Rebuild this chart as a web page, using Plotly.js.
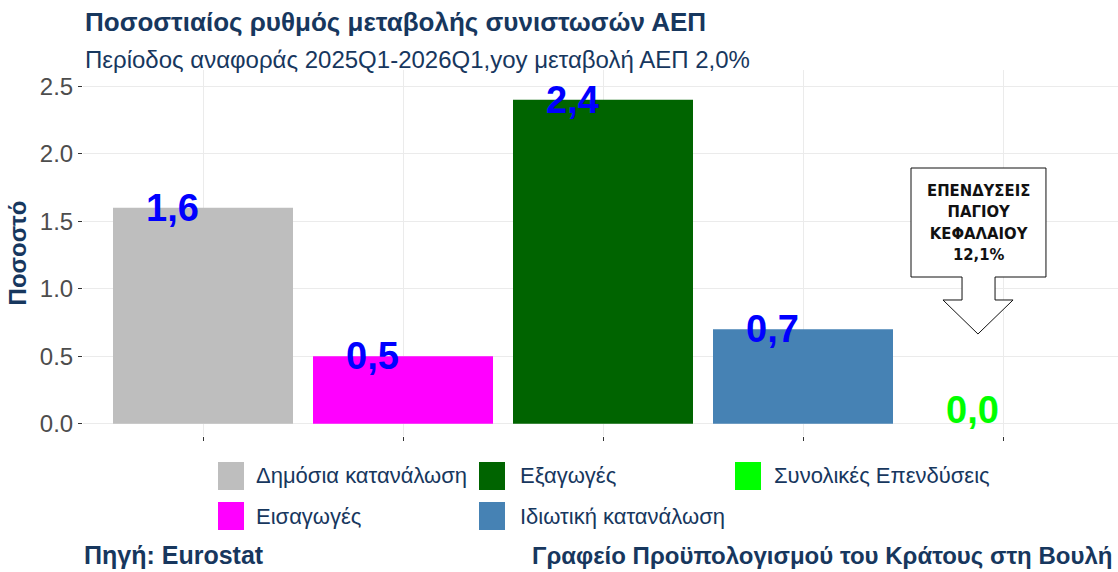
<!DOCTYPE html>
<html>
<head>
<meta charset="utf-8">
<script src="https://cdn.plot.ly/plotly-3.0.1.min.js"></script>
<style>
  html, body { margin: 0; padding: 0; background: #ffffff; }
  #chart { width: 1118px; height: 572px; }
</style>
</head>
<body>
<div id="chart"></div>
<script>
// data
const categories = ['Δημόσια κατανάλωση', 'Εισαγωγές', 'Εξαγωγές', 'Ιδιωτική κατανάλωση', 'Συνολικές Επενδύσεις'];
const values = [1.6, 0.5, 2.4, 0.7, 0.0];
const valueLabels = ['1,6', '0,5', '2,4', '0,7', '0,0'];
const barColors = ['#bebebe', '#ff00ff', '#006400', '#4682b4', '#00ff00'];
const labelColors = ['#0000ff', '#0000ff', '#0000ff', '#0000ff', '#00ff00'];
const yTicks = [0, 0.5, 1, 1.5, 2, 2.5];
const yTickText = ['0.0', '0.5', '1.0', '1.5', '2.0', '2.5'];

const navy = '#17375e';
const fontMain = 'Liberation Sans, Arial, sans-serif';

// plot area in pixels
const m = {l: 83, r: 0, t: 70, b: 136};
const W = 1118, H = 572;
const plotW = W - m.l - m.r;
const plotH = H - m.t - m.b;
const pxX = px => (px - m.l) / plotW;
const pxY = py => (H - m.b - py) / plotH;

const traces = categories.map((c, i) => ({
    x: [i + 1],
    y: [values[i]],
    name: c,
    type: 'bar',
    width: 0.9,
    marker: {color: barColors[i], line: {width: 0}},
    showlegend: false,
    hovertemplate: c + ': %{y:.1f}<extra></extra>'
}));

const annotations = [];
values.forEach((v, i) => {
    annotations.push({
        x: i + 1, y: v === 0 ? 0.1 : v, xref: 'x', yref: 'y',
        text: '<b>' + valueLabels[i] + '</b>',
        showarrow: false, xshift: -31,
        font: {family: fontMain, size: 38, color: labelColors[i]}
    });
});

// titles
annotations.push({
    x: 0, y: pxY(22), xref: 'paper', yref: 'paper', xanchor: 'left', yanchor: 'middle',
    text: '<b>Ποσοστιαίος ρυθμός μεταβολής συνιστωσών ΑΕΠ</b>', showarrow: false,
    font: {family: fontMain, size: 26, color: navy}
});
annotations.push({
    x: 0, y: pxY(60), xref: 'paper', yref: 'paper', xanchor: 'left', yanchor: 'middle',
    text: 'Περίοδος αναφοράς 2025Q1-2026Q1,yoy μεταβολή ΑΕΠ 2,0%', showarrow: false,
    font: {family: fontMain, size: 24, color: navy}
});
annotations.push({
    x: pxX(82), y: pxY(555), xref: 'paper', yref: 'paper', xanchor: 'left', yanchor: 'middle',
    text: '<b>Πηγή: Eurostat</b>', showarrow: false,
    font: {family: fontMain, size: 25, color: navy}
});
annotations.push({
    x: pxX(530), y: pxY(555), xref: 'paper', yref: 'paper', xanchor: 'left', yanchor: 'middle',
    text: '<b>Γραφείο Προϋπολογισμού του Κράτους στη Βουλή</b>', showarrow: false,
    font: {family: fontMain, size: 24, color: navy}
});

// callout text
annotations.push({
    x: pxX(978), y: pxY(222), xref: 'paper', yref: 'paper', xanchor: 'center', yanchor: 'middle',
    text: '<b>ΕΠΕΝΔΥΣΕΙΣ<br>ΠΑΓΙΟΥ<br>ΚΕΦΑΛΑΙΟΥ<br>12,1%</b>', showarrow: false,
    font: {family: 'Liberation Sans Narrow, DejaVu Sans Condensed, sans-serif', size: 16.5, color: '#111111'}
});

// legend, laid out in columns like the original
const legendOrder = [0, 1, 2, 3, 4];
const legCols = [218, 479, 735];
const legTextX = [254, 518, 772];
const legRows = [476, 516];
const shapes = [];
legendOrder.forEach((idx, k) => {
    const col = Math.floor(k / 2), row = k % 2;
    shapes.push({
        type: 'rect', xref: 'paper', yref: 'paper',
        x0: pxX(legCols[col]), x1: pxX(legCols[col] + 26),
        y0: pxY(legRows[row] - 14), y1: pxY(legRows[row] + 14),
        fillcolor: barColors[idx], line: {width: 0}
    });
    annotations.push({
        x: pxX(legTextX[col]), y: pxY(legRows[row]), xref: 'paper', yref: 'paper',
        xanchor: 'left', yanchor: 'middle', showarrow: false,
        text: categories[idx],
        font: {family: fontMain, size: 22, color: navy}
    });
});

// callout box with arrow pointing down
const bx = [911, 1046, 962, 995, 943, 1013, 978];
const by = [168, 277, 300, 334];
const X = px => pxX(px), Y = py => pxY(py);
const p = [
    [bx[0], by[0]], [bx[1], by[0]], [bx[1], by[1]], [bx[3], by[1]], [bx[3], by[2]],
    [bx[5], by[2]], [bx[6], by[3]], [bx[4], by[2]], [bx[2], by[2]], [bx[2], by[1]], [bx[0], by[1]]
];
shapes.push({
    type: 'path', xref: 'paper', yref: 'paper',
    path: 'M' + p.map(q => X(q[0]).toFixed(4) + ',' + Y(q[1]).toFixed(4)).join(' L') + ' Z',
    fillcolor: '#ffffff', line: {color: '#111111', width: 1}
});

const layout = {
    width: W, height: H,
    margin: m,
    paper_bgcolor: '#ffffff',
    plot_bgcolor: '#ffffff',
    font: {family: fontMain, color: '#4d4d4d'},
    bargap: 0.1,
    xaxis: {
        range: [0.4, 5.575],
        tickvals: [1, 2, 3, 4, 5],
        ticktext: ['', '', '', '', ''],
        ticks: 'outside', ticklen: 4, tickcolor: '#333333', tickwidth: 1,
        showgrid: true, gridcolor: '#ebebeb', gridwidth: 1,
        zeroline: false, showline: false, fixedrange: true
    },
    yaxis: {
        range: [-0.09, 2.62],
        tickvals: yTicks,
        ticktext: yTickText,
        ticks: 'outside', ticklen: 4, tickcolor: '#333333', tickwidth: 1,
        tickfont: {size: 24, color: '#4d4d4d'},
        showgrid: true, gridcolor: '#ebebeb', gridwidth: 1,
        zeroline: false, showline: false, fixedrange: true,
        title: {text: '<b>Ποσοστό</b>', font: {size: 24, color: navy}, standoff: 6}
    },
    showlegend: false,
    annotations: annotations,
    shapes: shapes
};

Plotly.newPlot('chart', traces, layout, {displayModeBar: false, staticPlot: true});
</script>
</body>
</html>
